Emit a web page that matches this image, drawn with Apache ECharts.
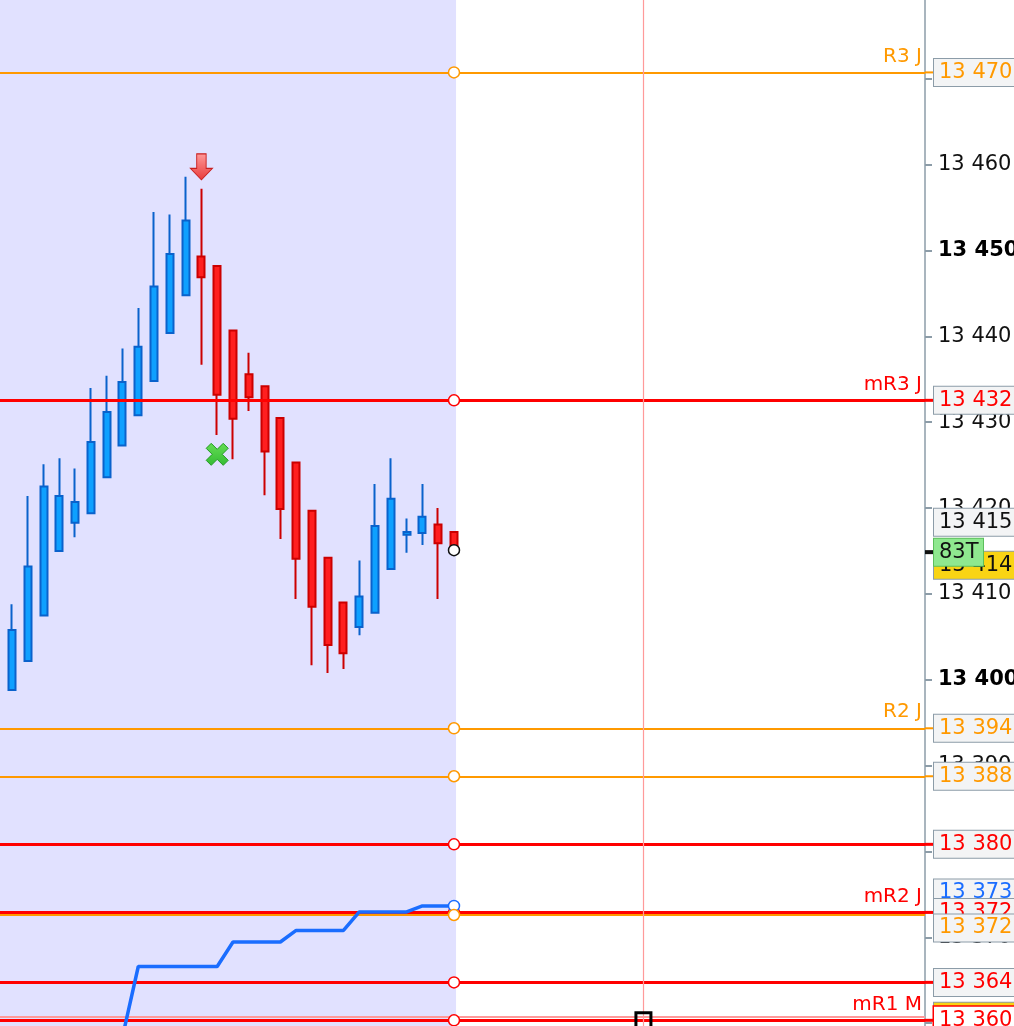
<!DOCTYPE html>
<html><head><meta charset="utf-8">
<script src="https://cdn.jsdelivr.net/npm/echarts@6/dist/echarts.min.js"></script>
<style>
html,body{margin:0;padding:0;width:1014px;height:1026px;overflow:hidden;background:#fff}
#c{position:absolute;left:0;top:-7.33px;width:1014px;height:1116px}
</style>
</head><body><div id="c"></div>
<script>
// ---------------- DATA ----------------
const candleIndex = [0,1,2,3,4,5,6,7,8,9,10,11,12,13,14,15,16,17,18,19,20,21,22,23,24,25,26,27,28,29];
const opens  = [13392.95,13398.8,13402.2,13407.5,13415.0,13418.3,13419.4,13423.6,13427.3,13430.8,13434.8,13440.4,13444.8,13449.3,13448.2,13440.7,13435.6,13434.2,13430.5,13425.3,13419.7,13414.2,13409.0,13406.15,13407.8,13412.9,13416.9,13417.1,13418.1,13417.2];
const closes = [13404.6,13405.8,13413.2,13422.5,13421.4,13420.7,13427.7,13431.2,13434.7,13438.8,13445.8,13449.6,13453.5,13446.9,13433.2,13430.4,13432.9,13426.6,13419.9,13414.1,13408.5,13404.05,13403.1,13409.7,13417.9,13421.1,13417.2,13419.0,13415.9,13415.1];
const lows   = [13392.9,13398.8,13402.2,13407.5,13415.0,13416.6,13419.4,13423.6,13427.3,13430.8,13434.8,13440.4,13444.8,13436.7,13428.5,13425.7,13431.3,13421.5,13416.4,13409.4,13401.7,13400.8,13401.25,13405.2,13407.8,13412.9,13414.8,13415.7,13409.4,13415.1];
const highs  = [13404.7,13408.8,13421.4,13425.1,13425.8,13424.6,13434.0,13435.4,13438.6,13443.3,13454.5,13454.2,13458.6,13457.2,13448.2,13440.7,13438.1,13434.2,13430.5,13425.3,13419.7,13414.2,13409.0,13413.9,13422.8,13425.8,13418.8,13422.8,13420.0,13417.2];

// indicator (blue) vertices
const indicatorX = [8,9,14,15,18,19,22,23,26,27,29];
const indicatorY = [13358.4,13366.6,13366.6,13369.45,13369.45,13370.8,13370.8,13372.95,13372.95,13373.65,13373.65];
const indicatorTag = '13 373';

// pivot levels
const levelValues = [13470.75,13432.55,13394.35,13388.76,13380.83,13372.9,13372.6,13364.75,13360.33];
const levelKinds  = ['o','r','o','o','r','r','o','r','r'];
const levelNames  = ['R3 J','mR3 J','R2 J','','','mR2 J','','','mR1 M'];
const levelTags   = ['13 470','13 432','13 394','13 388','13 380','13 372','13 372','13 364','13 360'];

// last price / quote tags
const lastPrice = 13415.1;
const lastTag = '13 415';
const quoteTag = '13 414';
const timerTag = '83T';

// signals
const sellSignals = [[13, 13459.75]];
const exitSignals = [[14, 13426.26]];

// crosshair
const crossX = 41;
const crossY = 13360.8;

// session shading end (index)
const sessionEnd = 29.13;

// y ticks
const yMin = 13350, yMax = 13480, yStep = 10;

// ---------------- STYLE ----------------
const FONT = 'DejaVu Sans';
const COL = { o: '#ff9900', r: '#ff0000', b: '#1a6dff' };
const LW  = { o: 2, r: 3 };
const AXIS = '#8c9ca8';
const layoutShift = { blue: -13, red372: 0, orange372: 13, last: -28, quote: 15, timer: 2 };

function fmt(v){ const s = String(Math.round(v)); return s.slice(0, s.length-3) + ' ' + s.slice(-3); }

function boxLabel(text, color, opts){
  opts = opts || {};
  const stub = opts.stub;
  const rich = {
    s: { width: 9, height: stub ? stub.h : 0, backgroundColor: stub ? stub.c : 'transparent' },
    b: { fontFamily: FONT, fontSize: 21, lineHeight: 23, color: color,
         backgroundColor: opts.bg || '#f3f4f5', borderColor: opts.border || AXIS,
         borderWidth: opts.bw || 1, padding: [3,5,3,5], width: opts.width || 80 }
  };
  return { show: true, position: 'end', distance: 0, opacity: 1,
           formatter: '{s|}{b|' + text + '}', rich: rich, offset: [0, opts.dy || 0] };
}
const hidden = { width: 0, color: 'rgba(0,0,0,0)' };

// ---------------- BUILD ----------------
const candleData = candleIndex.map((x, i) => [x, opens[i], closes[i], lows[i], highs[i]]);
const indicatorData = indicatorX.map((x, i) => [x, indicatorY[i]]);

const lineItems = [];
levelValues.forEach((v, i) => {
  const k = levelKinds[i];
  lineItems.push({
    yAxis: v,
    lineStyle: { color: COL[k], width: LW[k], type: 'solid' },
    label: levelNames[i] ? { show: true, formatter: levelNames[i], position: 'insideEndTop',
      distance: [3, 6], color: COL[k], fontFamily: FONT, fontSize: 20 } : { show: false }
  });
});
// crosshair
lineItems.push({ xAxis: crossX, lineStyle: { color: '#ff9a9a', width: 1.2, type: 'solid' }, label: { show: false } });
lineItems.push({ yAxis: crossY, lineStyle: { color: '#ff9a9a', width: 2, type: 'solid' }, label: { show: false } });

// tag boxes (drawn in order)
const tagItems = [];
function addTag(v, label){ tagItems.push({ yAxis: v, lineStyle: hidden, label: label }); }
levelValues.forEach((v, i) => {
  const k = levelKinds[i];
  if (i === 5) {
    addTag(indicatorY[indicatorY.length-1], boxLabel(indicatorTag, COL.b, { dy: layoutShift.blue }));
    addTag(v, boxLabel(levelTags[i], COL[k], { dy: layoutShift.red372, stub: { h: LW[k], c: COL[k] } }));
    return;
  }
  if (i === 6) { addTag(v, boxLabel(levelTags[i], COL[k], { dy: layoutShift.orange372 })); return; }
  if (i === 8) {
    addTag(crossY, boxLabel(' ', '#000', { bg: '#f9d414' }));
    addTag(v, boxLabel(levelTags[i], COL.r, { border: COL.r, bw: 1.5, bg: '#ffffff', stub: { h: LW[k], c: COL[k] } }));
    return;
  }
  addTag(v, boxLabel(levelTags[i], COL[k], { stub: { h: LW[k], c: COL[k] } }));
});
addTag(lastPrice, boxLabel(lastTag, '#111', { dy: layoutShift.last }));
addTag(lastPrice, boxLabel(quoteTag, '#111', { dy: layoutShift.quote, bg: '#f9d414' }));
addTag(lastPrice, boxLabel(timerTag, '#111', { dy: layoutShift.timer, bg: '#8fe88f', border: '#5cbf5c', width: 39, stub: { h: 4, c: '#111' } }));

// end circles
const circleData = [];
levelValues.forEach((v, i) => {
  if (i === 6) circleData.push({ value: [candleIndex[candleIndex.length-1], indicatorY[indicatorY.length-1]], itemStyle: { borderColor: COL.b } });
  circleData.push({ value: [candleIndex[candleIndex.length-1], v], itemStyle: { borderColor: COL[levelKinds[i]] } });
});
circleData.push({ value: [candleIndex[candleIndex.length-1], lastPrice], itemStyle: { borderColor: '#111' } });

const arrowPath = 'path://M6,0 L15,0 L15,14 L21,14 L10.5,25 L0,14 L6,14 Z';
const xPath = 'path://M0,5 L5,0 L11,6 L17,0 L22,5 L16,11 L22,17 L17,22 L11,16 L5,22 L0,17 L6,11 Z';

const markPts = [];
sellSignals.forEach(s => markPts.push({ coord: s, symbol: arrowPath, symbolSize: [22, 26],
  itemStyle: { color: new echarts.graphic.LinearGradient(0,0,0,1,[{offset:0,color:'#ff9a9a'},{offset:1,color:'#e83a3a'}]), borderColor: '#c82020', borderWidth: 1 } }));
exitSignals.forEach(s => markPts.push({ coord: s, symbol: xPath, symbolSize: [22, 22],
  itemStyle: { color: new echarts.graphic.LinearGradient(0,0,0,1,[{offset:0,color:'#66dd55'},{offset:1,color:'#33bb33'}]), borderColor: '#229a22', borderWidth: 1 } }));
markPts.push({ coord: [crossX, levelValues[levelValues.length-1]], symbol: 'rect', symbolSize: 15,
  itemStyle: { color: 'rgba(0,0,0,0)', borderColor: '#000', borderWidth: 3 } });

const kx = 15.786; // px per index
const chart = echarts.init(document.getElementById('c'), null, { renderer: 'canvas' });
chart.setOption({
  animation: false,
  backgroundColor: '#ffffff',
  grid: { left: 0, right: 89, top: 0, bottom: 0, containLabel: false, outerBoundsMode: 'none' },
  xAxis: { type: 'value', min: 3.8 / kx, max: (925 + 3.8) / kx, show: false, splitLine: { show: false } },
  yAxis: {
    type: 'value', position: 'right', min: yMin, max: yMax, interval: yStep,
    splitLine: { show: false },
    axisLine: { show: true, lineStyle: { color: AXIS, width: 1.5 } },
    axisTick: { show: true, inside: false, length: 7, lineStyle: { color: AXIS, width: 2 } },
    axisLabel: { show: true, margin: 13, showMinLabel: true, showMaxLabel: true,
      fontFamily: FONT, fontSize: 21, color: '#111',
      formatter: v => (v % 50 === 0 ? '{b|' + fmt(v) + '}' : fmt(v)),
      rich: { b: { fontFamily: FONT, fontSize: 21, fontWeight: 'bold', color: '#000' } } }
  },
  series: [
    {
      type: 'candlestick', data: candleData, encode: { x: 0, y: [1, 2, 3, 4] },
      barWidth: 7.5, clip: true, z: 2,
      itemStyle: { color: '#0ea0ff', color0: '#ff1f1f', borderColor: '#0a62cc', borderColor0: '#cc0000', borderWidth: 2 },
      markArea: { silent: true, z: 1, itemStyle: { color: '#e1e1ff' },
        data: [[{ xAxis: -2 }, { xAxis: sessionEnd }]] },
      markLine: { silent: true, symbol: ['none', 'none'], animation: false, z: 5,
        lineStyle: { type: 'solid' }, data: lineItems },
      markPoint: { silent: true, z: 8, label: { show: false }, data: markPts }
    },
    {
      type: 'line', data: [], z: 9,
      markLine: { silent: true, symbol: ['none', 'none'], animation: false, z: 9, data: tagItems }
    },
    {
      type: 'line', data: indicatorData, z: 6, symbol: 'none', silent: true,
      lineStyle: { color: COL.b, width: 3.5 }, clip: true
    },
    {
      type: 'scatter', data: circleData, z: 7, symbol: 'circle', symbolSize: 11, silent: true,
      itemStyle: { color: '#ffffff', borderWidth: 1.5, opacity: 1 }
    }
  ]
});
</script>
</body></html>
